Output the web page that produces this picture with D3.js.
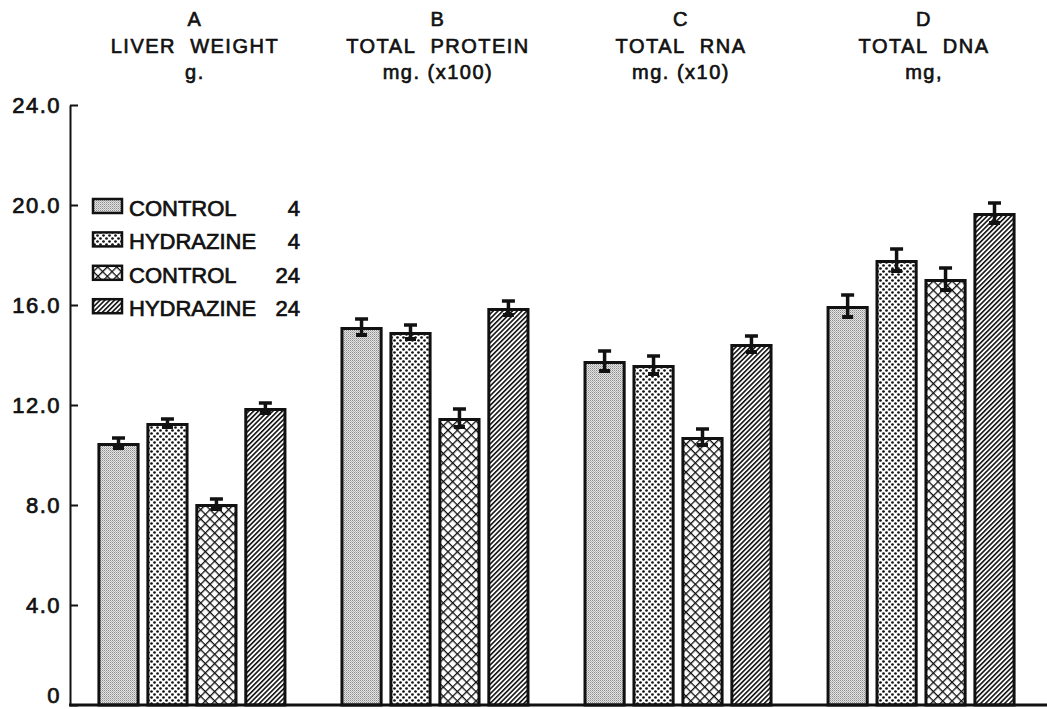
<!DOCTYPE html>
<html>
<head>
<meta charset="utf-8">
<script src="https://cdn.jsdelivr.net/npm/d3@7"></script>
<style>
  html, body { margin: 0; padding: 0; background: #fff; }
  svg text { font-family: "Liberation Sans", Arial, sans-serif; fill: #111; }
</style>
</head>
<body>
<svg id="chart" width="1047" height="709"></svg>
<script>
// ---- data ----
const groups = ["A", "B", "C", "D"];
const groupTitles = ["LIVER\u00a0\u00a0WEIGHT", "TOTAL\u00a0\u00a0PROTEIN", "TOTAL\u00a0\u00a0RNA", "TOTAL\u00a0\u00a0DNA"];
const groupUnits = ["g.", "mg. (x100)", "mg. (x10)", "mg,"];
const seriesKeys = ["c4", "h4", "c24", "h24"];
const seriesNames = ["CONTROL", "HYDRAZINE", "CONTROL", "HYDRAZINE"];
const seriesHours = ["4", "4", "24", "24"];
const control4    = [10.48, 15.12, 13.76, 15.96];
const hydrazine4  = [11.28, 14.92, 13.60, 17.80];
const control24   = [8.04, 11.48, 10.72, 17.04];
const hydrazine24 = [11.88, 15.88, 14.44, 19.68];
const control4Err    = [0.20, 0.32, 0.40, 0.44];
const hydrazine4Err  = [0.16, 0.28, 0.36, 0.44];
const control24Err   = [0.20, 0.36, 0.32, 0.44];
const hydrazine24Err = [0.20, 0.28, 0.32, 0.40];
const yTicks = [0, 4, 8, 12, 16, 20, 24];

const seriesValues = [control4, hydrazine4, control24, hydrazine24];
const seriesErrors = [control4Err, hydrazine4Err, control24Err, hydrazine24Err];

// ---- setup ----
const svg = d3.select("#chart");
const defs = svg.append("defs");

// stipple (control 4)
const p1 = defs.append("pattern").attr("id", "pat-c4").attr("patternUnits", "userSpaceOnUse")
  .attr("width", 2).attr("height", 2);
p1.append("rect").attr("width", 2).attr("height", 2).attr("fill", "#e4e4e4");
p1.append("rect").attr("x", 0).attr("y", 0).attr("width", 1).attr("height", 1).attr("fill", "#8c8c8c");
p1.append("rect").attr("x", 1).attr("y", 1).attr("width", 1).attr("height", 1).attr("fill", "#b4b4b4");

// dots (hydrazine 4)
const p2 = defs.append("pattern").attr("id", "pat-h4").attr("patternUnits", "userSpaceOnUse")
  .attr("width", 6).attr("height", 6);
p2.append("rect").attr("width", 6).attr("height", 6).attr("fill", "#fff");
p2.append("circle").attr("cx", 1.5).attr("cy", 1.5).attr("r", 1.35).attr("fill", "#111");
p2.append("circle").attr("cx", 4.5).attr("cy", 4.5).attr("r", 1.35).attr("fill", "#111");

// crosshatch (control 24)
const p3 = defs.append("pattern").attr("id", "pat-c24").attr("patternUnits", "userSpaceOnUse")
  .attr("width", 6.6).attr("height", 6.6).attr("patternTransform", "rotate(45)");
p3.append("rect").attr("width", 6.6).attr("height", 6.6).attr("fill", "#fff");
p3.append("line").attr("x1", 0).attr("y1", 0).attr("x2", 0).attr("y2", 6.6).attr("stroke", "#111").attr("stroke-width", 2.6);
p3.append("line").attr("x1", 0).attr("y1", 0).attr("x2", 6.6).attr("y2", 0).attr("stroke", "#111").attr("stroke-width", 2.6);

// diagonal (hydrazine 24)
const p4 = defs.append("pattern").attr("id", "pat-h24").attr("patternUnits", "userSpaceOnUse")
  .attr("width", 3.4).attr("height", 3.4).attr("patternTransform", "rotate(45)");
p4.append("rect").attr("width", 3.4).attr("height", 3.4).attr("fill", "#fff");
p4.append("line").attr("x1", 0.8).attr("y1", 0).attr("x2", 0.8).attr("y2", 3.4).attr("stroke", "#111").attr("stroke-width", 1.6);

const fills = { c4: "url(#pat-c4)", h4: "url(#pat-h4)", c24: "url(#pat-c24)", h24: "url(#pat-h24)" };

// ---- scales ----
const y = d3.scaleLinear().domain([0, 24]).range([705, 105]);
const x0 = d3.scaleBand().domain(groups).range([70, 1043]).paddingInner(0.2346).paddingOuter(0.119);
const x1 = d3.scaleBand().domain(seriesKeys).range([0, x0.bandwidth()]).paddingInner(0.2).paddingOuter(0);

// ---- y axis ----
const yAxis = svg.append("g").attr("transform", "translate(70,0)")
  .call(d3.axisLeft(y).tickValues(yTicks).tickSize(-8).tickSizeOuter(0).tickPadding(9)
    .tickFormat(d => d === 0 ? "0" : d.toFixed(1)));
yAxis.select(".domain").attr("stroke", "#111").attr("stroke-width", 2);
yAxis.selectAll(".tick line").attr("stroke", "#111").attr("stroke-width", 2);
yAxis.selectAll(".tick text").attr("font-size", 22).attr("letter-spacing", 1.5)
  .attr("stroke", "#111").attr("stroke-width", 0.7).style("font-family", "Liberation Sans, Arial, sans-serif");
// keep the "0" label inside the picture
yAxis.selectAll(".tick text").filter(d => d === 0).attr("dy", "-0.12em");

// ---- bars ----
const data = [];
groups.forEach((g, gi) => {
  seriesKeys.forEach((k, si) => {
    data.push({ g, k, v: seriesValues[si][gi], e: seriesErrors[si][gi] });
  });
});

const barG = svg.append("g");
barG.selectAll("rect.bar").data(data).join("rect")
  .attr("class", "bar")
  .attr("x", d => x0(d.g) + x1(d.k))
  .attr("y", d => y(d.v) + 1.5)
  .attr("width", x1.bandwidth())
  .attr("height", d => y(0) - y(d.v) - 1.5)
  .attr("fill", d => fills[d.k])
  .attr("stroke", "#111")
  .attr("stroke-width", 3);

// error bars
const errG = svg.append("g").attr("stroke", "#111").attr("stroke-linecap", "butt");
data.forEach(d => {
  const cx = x0(d.g) + x1(d.k) + x1.bandwidth() / 2;
  errG.append("line").attr("x1", cx).attr("x2", cx).attr("y1", y(d.v + d.e)).attr("y2", y(d.v - d.e) + 1)
    .attr("stroke-width", 3.5);
  errG.append("line").attr("x1", cx - 6.5).attr("x2", cx + 6.5).attr("y1", y(d.v + d.e)).attr("y2", y(d.v + d.e))
    .attr("stroke-width", 3.5);
  errG.append("line").attr("x1", cx - 5.5).attr("x2", cx + 5.5).attr("y1", y(d.v - d.e)).attr("y2", y(d.v - d.e))
    .attr("stroke-width", 4);
});

// x axis baseline
svg.append("line").attr("x1", 69).attr("x2", 1047).attr("y1", y(0)).attr("y2", y(0))
  .attr("stroke", "#111").attr("stroke-width", 3);

// ---- group headers ----
const hdr = svg.append("g").attr("text-anchor", "middle").attr("font-size", 20)
  .attr("letter-spacing", 1.5).attr("stroke", "#111").attr("stroke-width", 0.65);
groups.forEach((g, gi) => {
  const cx = x0(g) + x0.bandwidth() / 2 + 3;
  hdr.append("text").attr("x", cx).attr("y", 26).text(g);
  hdr.append("text").attr("x", cx).attr("y", 53).text(groupTitles[gi]);
  hdr.append("text").attr("x", cx).attr("y", 79).text(groupUnits[gi]);
});

// ---- legend ----
const leg = svg.append("g");
seriesKeys.forEach((k, i) => {
  const ty = 216 + i * 33.4;
  leg.append("rect").attr("x", 93).attr("y", ty - 17).attr("width", 29).attr("height", 14)
    .attr("fill", fills[k]).attr("stroke", "#111").attr("stroke-width", 2.5);
  leg.append("text").attr("x", 129).attr("y", ty).attr("font-size", 22)
    .attr("stroke", "#111").attr("stroke-width", 0.7).text(seriesNames[i]);
  leg.append("text").attr("x", 300).attr("y", ty).attr("font-size", 22).attr("text-anchor", "end")
    .attr("stroke", "#111").attr("stroke-width", 0.7).text(seriesHours[i]);
});
</script>
</body>
</html>
